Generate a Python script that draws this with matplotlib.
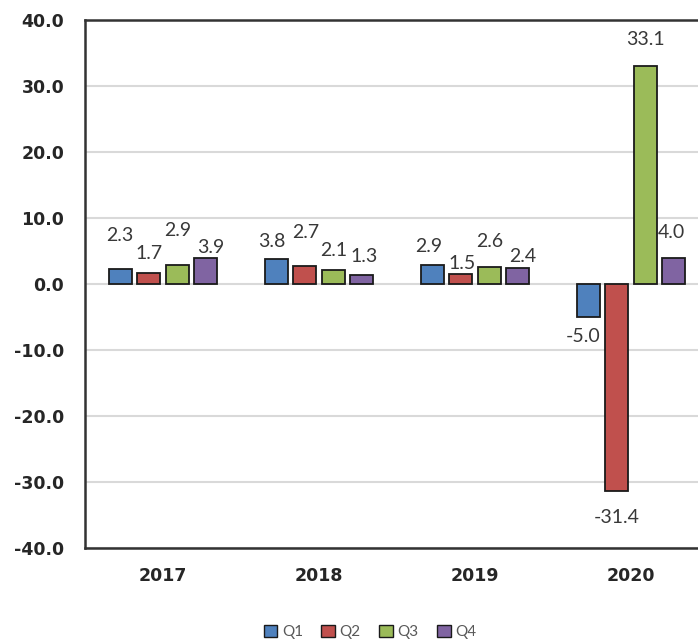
import numpy as np
import matplotlib
matplotlib.use("Agg")
import matplotlib.pyplot as plt
from matplotlib.patches import Patch

plt.rcParams['font.family'] = ['Lato', 'DejaVu Sans']

# 数据
years = ['2017', '2018', '2019', '2020']
series = ['Q1', 'Q2', 'Q3', 'Q4']
q1 = [2.3, 3.8, 2.9, -5.0]
q2 = [1.7, 2.7, 1.5, -31.4]
q3 = [2.9, 2.1, 2.6, 33.1]
q4 = [3.9, 1.3, 2.4, 4.0]
colors = ['#4f81bd', '#c0504d', '#9bbb59', '#8064a2']

# 标签偏移 (像素, 相对柱端), 行=季度, 列=年份
label_dx = [[0, -4, -3, -5],
            [0, 1, 1, 0],
            [0, 0, 0, 0],
            [5, 2, 5, -2]]
label_dy = [[33, 17, 18, -19],
            [19, 34, 11, -26],
            [34, 20, 25, 26],
            [11, 19, 12, 25]]

fig = plt.figure(figsize=(6.98, 6.42), dpi=100)
ax = fig.add_axes([85 / 698, 1 - 548 / 642, 624 / 698, 528 / 642])

x = np.arange(len(years))
step = 0.183
width = 0.147
for i, (vals, c) in enumerate(zip([q1, q2, q3, q4], colors)):
    pos = x + (i - 1.5) * step
    ax.bar(pos, vals, width, color=c, edgecolor='#1a1a1a', linewidth=1.3, zorder=3, label=series[i])
    for j, v in enumerate(vals):
        ax.annotate('%.1f' % v, (pos[j], v), xytext=(label_dx[i][j], label_dy[i][j]),
                    textcoords='offset pixels', ha='center', va='center',
                    fontsize=14, color='#383838', zorder=4)

ax.set_xlim(-0.5, 3.5)
ax.set_ylim(-40, 40)
ticks = np.arange(-40, 41, 10)
ax.set_yticks(ticks)
ax.set_yticklabels(['%.1f' % t for t in ticks], fontsize=12.5, fontweight='bold',
                   color='#262626', family='DejaVu Sans')
ax.set_xticks(x)
ax.set_xticklabels(years, fontsize=12.5, fontweight='bold', color='#262626', family='DejaVu Sans')
ax.tick_params(axis='y', length=0, pad=15)
ax.tick_params(axis='x', length=0, pad=14)
ax.grid(axis='y', color='#d9d9d9', linewidth=1.5, zorder=0)
for s in ['left', 'top', 'bottom']:
    ax.spines[s].set_color('#333333')
    ax.spines[s].set_linewidth(1.8)
ax.spines['right'].set_visible(False)

handles = [Patch(facecolor=c, edgecolor='#1a1a1a', linewidth=1.0) for c in colors]
fig.legend(handles, series, loc='center', bbox_to_anchor=(370 / 698, 1 - 632 / 642), ncol=4,
           frameon=False, fontsize=11, handlelength=0.9, handleheight=0.9, handletextpad=0.3,
           columnspacing=1.2, labelcolor='#595959')

fig.savefig('out.png', dpi=100)
